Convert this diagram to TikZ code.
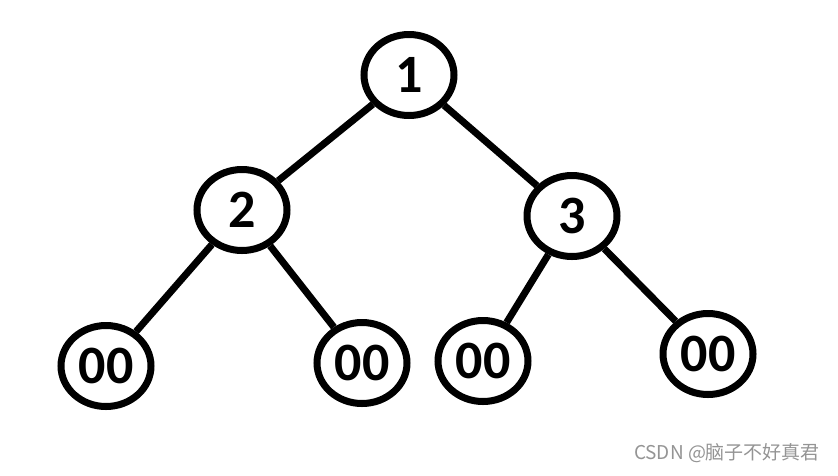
\documentclass[tikz,border=0pt]{standalone}
\usepackage{fontspec}
\usepackage{tikz}
\usetikzlibrary{positioning,shapes.geometric}

\newfontfamily\numfont{Carlito}
\newfontfamily\marcafont{Noto Sans CJK SC}

\begin{document}
\begin{tikzpicture}[
    x=1pt, y=-1pt,
    vertice/.style={draw, ellipse, line width=7pt, minimum width=90pt,
        minimum height=81pt, inner sep=0pt,
        font=\numfont\bfseries\fontsize{54}{54}\selectfont},
    aresta/.style={line width=7pt},
    marca/.style={text=black!42, font=\marcafont\fontsize{19}{19}\selectfont}
]
    \useasboundingbox (0,0) rectangle (838,475);

    \node[vertice] (raiz) at (409,75) {1};
    \node[vertice, on grid, below left=135pt and 167pt of raiz] (esq) {2};
    \node[vertice, on grid, below right=141pt and 163pt of raiz] (dir) {3};
    \node[vertice, on grid, below left=156pt and 136pt of esq] (esqesq) {00};
    \node[vertice, on grid, below right=153pt and 120pt of esq] (esqdir) {00};
    \node[vertice, on grid, below left=145pt and 89pt of dir] (diresq) {00};
    \node[vertice, on grid, below right=138pt and 136pt of dir] (dirdir) {00};
    \node[marca] (assinatura) at (727,453) {CSDN @脑子不好真君};

    \draw[aresta] (raiz) -- (esq);
    \draw[aresta] (raiz) -- (dir);
    \draw[aresta] (esq) -- (esqesq);
    \draw[aresta] (esq) -- (esqdir);
    \draw[aresta] (dir) -- (diresq);
    \draw[aresta] (dir) -- (dirdir);
\end{tikzpicture}
\end{document}
